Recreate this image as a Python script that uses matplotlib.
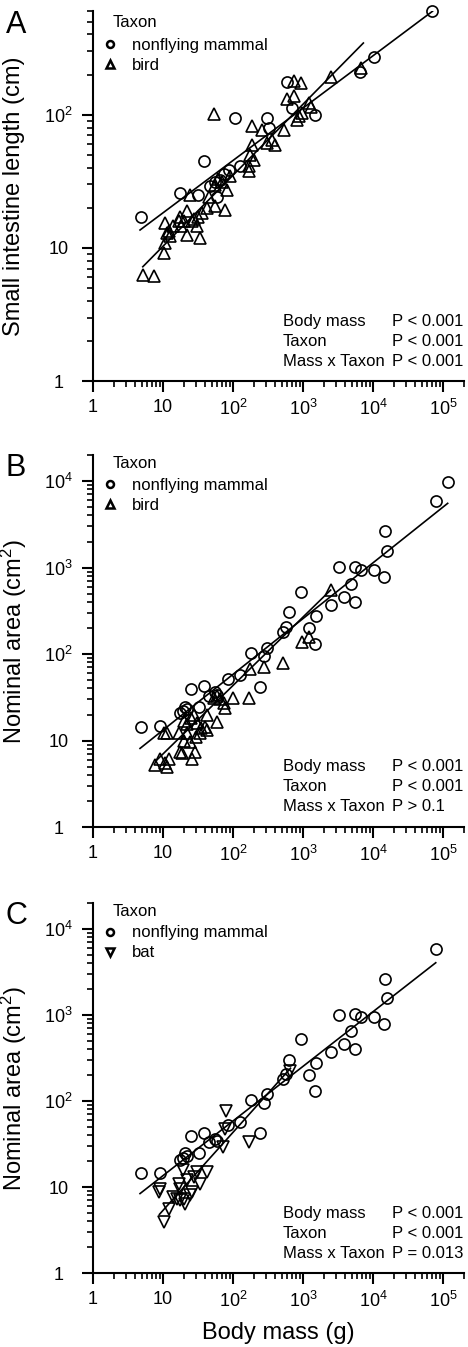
import numpy as np
import matplotlib.pyplot as plt
from matplotlib.lines import Line2D

plt.rcParams['font.family'] = ['Liberation Sans', 'DejaVu Sans']
plt.rcParams['mathtext.fontset'] = 'custom'
plt.rcParams['mathtext.rm'] = 'Liberation Sans'
plt.rcParams['mathtext.it'] = 'Liberation Sans:italic'
plt.rcParams['mathtext.bf'] = 'Liberation Sans:bold'

# ---- panel A : small intestine length (cm) vs body mass (g) ----
a_mam_mass = [71000, 10200, 6500, 600, 700, 1470, 308, 325, 108, 39, 17.6, 32, 4.8,
              47, 59, 66, 87, 128, 75, 55]
a_mam_len = [600, 270, 208, 175, 112, 100, 95, 80, 95, 45, 26, 25, 17,
             29, 24, 32.5, 38.6, 41, 36, 31]
a_bird_mass = [54, 2500, 6700, 741, 925, 596, 741, 1216, 1285, 873, 977, 828, 532,
               188, 261, 363, 405, 308, 188, 177, 198, 168, 168, 92, 82, 70, 56, 78,
               56, 42.6, 36, 24.5, 22, 17.6, 16.7, 14.1, 12, 10.8, 11.4, 12.7, 22, 34,
               26, 30.6, 32, 10.8, 10.4, 5.15, 7.5, 20, 18, 28, 45, 62]
a_bird_len = [102, 192, 225, 178, 173, 131, 137, 122, 115, 97, 103, 92, 77,
              82, 77, 65, 59.5, 61, 59.5, 50, 46, 41, 37.5, 34.4, 27.3, 31.5, 29.8, 19.3,
              20.5, 19.9, 18.2, 25, 18.8, 17.2, 15.8, 14.5, 13.3, 15.3, 12.9, 12.2, 12.5, 11.8,
              15.8, 14.5, 17.2, 10.8, 9.1, 6.3, 6.2, 16, 14.5, 16.5, 24, 33]
# regression lines: log10(y) = b0 + b1*log10(mass), drawn between mass limits
a_mam_fit = [0.870, 0.393, 4.7, 71000]
a_bird_fit = [0.479, 0.533, 5.15, 7300]

# ---- panel B : nominal area (cm2), mammals vs birds ----
b_mam_mass = [117000, 79000, 14900, 16100, 14400, 10200, 6690, 5480, 3270, 4810, 3860,
              5480, 2485, 1517, 1216, 1483, 945, 630, 564, 522, 308, 275, 182, 241, 125,
              85, 39, 25, 45, 55, 60, 20.8, 17.6, 19.3, 33, 22, 9.1, 4.8]
b_mam_area = [9800, 5870, 2640, 1565, 783, 936, 936, 1022, 1005, 645, 460,
              402, 368, 275, 198, 130, 525, 303, 207, 181, 119, 95, 104, 42, 57,
              52, 43, 39.4, 33, 36, 34, 24.6, 20.6, 22, 24.6, 23, 14.7, 14.4]
b_bird_mass = [2485, 977, 1216, 522, 282, 177, 168, 99, 78, 74, 59, 53, 42.6, 40, 34,
               11.4, 16.7, 10.2, 7.7, 9.1, 10.8, 11.4, 12, 17.6, 18.7, 26, 28.9, 24.5,
               22, 42.6, 30.6, 25, 22, 28, 20, 35, 60, 66, 20, 30]
b_bird_area = [550, 139, 158, 78, 71, 66.5, 30.7, 30.7, 23.5, 27, 16.5, 30.7, 19.7, 14.4, 12.1,
               12.1, 12.1, 12.1, 5.2, 6.2, 5.45, 4.98, 6.2, 7.4, 7.1, 6.2, 7.4, 9.7,
               12.1, 13.2, 16, 18, 15.5, 20, 17, 14, 33, 30, 10, 11]
b_mam_fit = [0.476, 0.6445, 4.7, 117000]
b_bird_fit = [0.054, 0.791, 8.2, 2485]

# ---- panel C : nominal area (cm2), mammals vs bats ----
c_mam_mass = b_mam_mass[1:]
c_mam_area = b_mam_area[1:]
c_bat_mass = [80, 168, 72, 78, 664, 19.3, 30.6, 42.6, 9.1, 17.6, 8.9, 10.2, 12, 14.1,
              15.8, 17.6, 19.7, 20.8, 24.5, 26, 34, 16.7, 22, 28]
c_bat_area = [76, 33, 29, 47.5, 225, 15.6, 14.9, 14.9, 9.6, 9.6, 8.75, 3.93, 5.6, 7.7,
              7.3, 7.0, 7.3, 6.4, 8.0, 8.75, 10.9, 10.9, 12, 13]
c_mam_fit = [0.497, 0.635, 4.7, 79000]
c_bat_fit = [-0.179, 0.907, 8.9, 664]

x_ticks = [1, 10, 100, 1e3, 1e4, 1e5]
x_labels = ['1', '10', r'$\mathregular{10^2}$', r'$\mathregular{10^3}$',
            r'$\mathregular{10^4}$', r'$\mathregular{10^5}$']
y_ticks_a = [1, 10, 100]
y_labels_a = ['1', '10', r'$\mathregular{10^2}$']
y_ticks_bc = [1, 10, 100, 1e3, 1e4]
y_labels_bc = ['1', '10', r'$\mathregular{10^2}$', r'$\mathregular{10^3}$', r'$\mathregular{10^4}$']

fig = plt.figure(figsize=(4.68, 13.47), dpi=100)


def fit_line(ax, fit):
    b0, b1, lo, hi = fit
    m = np.logspace(np.log10(lo), np.log10(hi), 50)
    ax.plot(m, 10 ** (b0 + b1 * np.log10(m)), color='black', lw=1.2, zorder=3)


def panel(rect, letter, mx, my, ox, oy, omark, olabel, fit1, fit2, ylim, yt, ytl,
          ylabel, stats, title_y, leg_y, xlabel=None):
    ax = fig.add_axes(rect)
    ax.set_xscale('log')
    ax.set_yscale('log')
    ax.plot(mx, my, 'o', ms=8, mfc='none', mec='black', mew=1.2, clip_on=False, zorder=4)
    ax.plot(ox, oy, omark, ms=8.5, mfc='none', mec='black', mew=1.2, clip_on=False, zorder=4)
    fit_line(ax, fit1)
    fit_line(ax, fit2)
    ax.set_xlim(1, 2e5)
    ax.set_ylim(*ylim)
    ax.set_xticks(x_ticks)
    ax.set_xticklabels(x_labels)
    ax.set_yticks(yt)
    ax.set_yticklabels(ytl, ha='center')
    ax.spines[['top', 'right']].set_visible(False)
    for s in ['left', 'bottom']:
        ax.spines[s].set_linewidth(1.5)
    ax.tick_params(which='major', direction='out', length=8, width=1.5, labelsize=13)
    ax.tick_params(which='minor', direction='out', length=4, width=1.2)
    ax.tick_params(axis='y', which='major', pad=17)
    ax.tick_params(axis='x', which='major', pad=5)
    ax.set_ylabel(ylabel, fontsize=17, va='center')
    ax.yaxis.set_label_coords(-0.213, 0.5)
    if xlabel:
        ax.set_xlabel(xlabel, fontsize=17, labelpad=8)

    # legend
    ax.text(0.054, title_y, 'Taxon', transform=ax.transAxes, fontsize=12, va='center')
    handles = [Line2D([], [], marker='o', ls='none', mfc='none', mec='black', ms=5, mew=1.8),
               Line2D([], [], marker=omark, ls='none', mfc='none', mec='black', ms=5.5, mew=1.8)]
    ax.legend(handles, ['nonflying mammal', olabel], frameon=False, loc='center left',
              bbox_to_anchor=(0.028, leg_y), fontsize=12, handlelength=0.8,
              handletextpad=0.9, labelspacing=0.3, borderpad=0, borderaxespad=0)

    rows = [0.162, 0.108, 0.054]
    for (name, p), yy in zip(stats, rows):
        ax.text(0.512, yy, name, transform=ax.transAxes, fontsize=12, va='center')
        ax.text(0.806, yy, p, transform=ax.transAxes, fontsize=12, va='center')

    fig.text(rect[0] - 0.187, rect[1] + rect[3] - 0.01, letter, fontsize=22, va='center')
    return ax


panel([0.1987, 0.7171, 0.7927, 0.2747], 'A', a_mam_mass, a_mam_len, a_bird_mass, a_bird_len,
      '^', 'bird', a_mam_fit, a_bird_fit, (1, 600), y_ticks_a, y_labels_a,
      'Small intestine length (cm)',
      [('Body mass', 'P < 0.001'), ('Taxon', 'P < 0.001'), ('Mass x Taxon', 'P < 0.001')],
      0.968, 0.881)

panel([0.1987, 0.3860, 0.7927, 0.2762], 'B', b_mam_mass, b_mam_area, b_bird_mass, b_bird_area,
      '^', 'bird', b_mam_fit, b_bird_fit, (1, 2e4), y_ticks_bc, y_labels_bc,
      r'Nominal area (cm$\mathregular{^2}$)',
      [('Body mass', 'P < 0.001'), ('Taxon', 'P < 0.001'), ('Mass x Taxon', 'P > 0.1')],
      0.978, 0.891)

panel([0.1987, 0.0549, 0.7927, 0.2747], 'C', c_mam_mass, c_mam_area, c_bat_mass, c_bat_area,
      'v', 'bat', c_mam_fit, c_bat_fit, (1, 2e4), y_ticks_bc, y_labels_bc,
      r'Nominal area (cm$\mathregular{^2}$)',
      [('Body mass', 'P < 0.001'), ('Taxon', 'P < 0.001'), ('Mass x Taxon', 'P = 0.013')],
      0.978, 0.892, xlabel='Body mass (g)')

fig.savefig('out.png', dpi=100)
